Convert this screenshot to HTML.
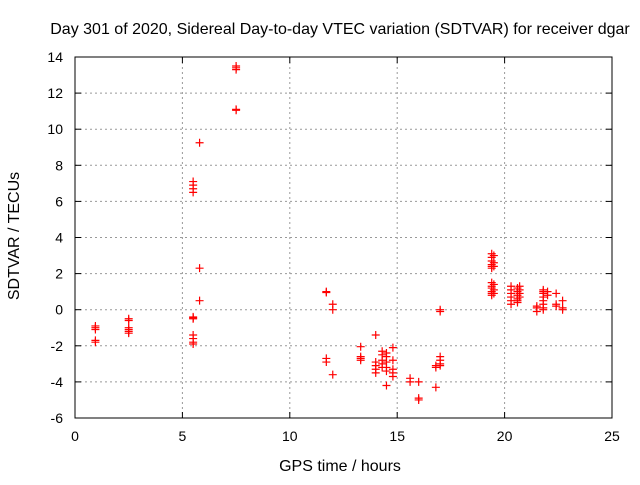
<!DOCTYPE html>
<html><head><meta charset="utf-8"><style>
body{margin:0;background:#fff;}
svg text{font-family:"Liberation Sans",sans-serif;font-size:14px;fill:#000;}
svg text.big{font-size:16px;}
</style></head><body>
<svg id="chart" width="640" height="480" xmlns="http://www.w3.org/2000/svg">
<rect width="640" height="480" fill="#fff"/>
<g id="grid"></g>
<g id="marks"></g>
<rect x="75" y="57" width="537" height="361" fill="none" stroke="#000" stroke-width="1"/>
<g id="ticks"></g>
<text class="big" x="340" y="34" text-anchor="middle">Day 301 of 2020, Sidereal Day-to-day VTEC variation (SDTVAR) for receiver dgar</text>
<text class="big" x="340" y="471" text-anchor="middle">GPS time / hours</text>
<text class="big" x="19" y="236" text-anchor="middle" transform="rotate(-90 19 236)">SDTVAR / TECUs</text>
</svg>
<script>
const xTicks=[0,5,10,15,20,25];
const yTicks=[-6,-4,-2,0,2,4,6,8,10,12,14];
const hours=[0.95,0.95,0.95,0.95,0.95,2.5,2.5,2.5,2.5,2.5,2.5,
5.5,5.5,5.5,5.5,5.5,5.5,5.5,5.5,5.5,5.5,5.5,5.8,5.8,5.8,7.5,7.5,7.5,7.5,7.5,
11.7,11.7,11.7,11.7,12.0,12.0,12.0,13.3,13.3,13.3,13.3,14.0,14.0,14.0,14.0,14.0,
14.3,14.3,14.3,14.3,14.3,14.5,14.5,14.5,14.5,14.5,14.5,14.8,14.8,14.8,14.8,14.8,
15.6,15.6,16.0,16.0,16.0,16.8,16.8,16.8,17.0,17.0,17.0,17.0,17.0,17.0,
19.4,19.4,19.4,19.4,19.4,19.4,19.4,19.4,19.4,19.4,19.4,19.4,19.5,19.5,19.5,19.5,19.5,19.5,
20.3,20.3,20.3,20.3,20.3,20.3,20.6,20.6,20.6,20.6,20.6,20.6,20.7,20.7,20.7,20.7,
21.5,21.5,21.5,21.8,21.8,21.8,21.8,21.8,21.8,21.8,21.8,22.0,22.0,22.4,22.4,22.4,22.7,22.7,22.7];
const values=[-0.9,-1.0,-1.1,-1.7,-1.8,-0.5,-0.6,-1.0,-1.1,-1.2,-1.3,
6.5,6.7,6.9,7.1,-0.4,-0.5,-0.45,-1.4,-1.6,-1.8,-1.9,9.25,2.3,0.5,13.3,13.4,13.5,11.1,11.05,
1.0,0.95,-2.7,-2.9,0.3,0.0,-3.6,-2.05,-2.6,-2.7,-2.8,-1.4,-2.9,-3.1,-3.3,-3.5,
-2.3,-2.5,-2.8,-3.0,-3.2,-2.4,-2.6,-2.9,-3.2,-3.4,-4.2,-2.1,-2.8,-3.3,-3.5,-3.7,
-3.8,-4.0,-4.0,-4.9,-5.0,-4.3,-3.1,-3.2,0.0,-0.1,-2.6,-2.8,-3.0,-3.1,
3.1,2.9,2.7,2.5,2.4,2.3,1.5,1.3,1.2,1.0,0.9,0.8,3.0,2.6,2.4,1.4,1.1,0.9,
1.3,1.1,0.9,0.7,0.5,0.3,1.2,1.0,0.8,0.6,0.5,0.4,1.3,1.1,0.9,0.7,
0.1,-0.1,0.2,1.1,1.0,0.9,0.7,0.5,0.3,0.1,0.0,1.0,0.8,0.9,0.3,0.2,0.5,0.1,0.0];
const NS="http://www.w3.org/2000/svg";
const X0=75,X1=612,Y0=418,Y1=57;
function xs(v){return X0+(v-0)/(25-0)*(X1-X0);}
function ys(v){return Y0-(v+6)/(14+6)*(Y0-Y1);}
const grid=document.getElementById('grid'),ticks=document.getElementById('ticks'),marks=document.getElementById('marks');
function mk(t,a,p){const e=document.createElementNS(NS,t);for(const k in a)e.setAttribute(k,a[k]);p.appendChild(e);return e;}
xTicks.forEach(v=>{const x=xs(v);
if(v>0&&v<25){const g=mk('line',{x1:x,x2:x,y1:Y1,y2:Y0,stroke:'#999','stroke-dasharray':'2,3'},grid);

}
mk('line',{x1:x,x2:x,y1:Y0,y2:Y0-6,stroke:'#000'},ticks);mk('line',{x1:x,x2:x,y1:Y1,y2:Y1+6,stroke:'#000'},ticks);
const t=mk('text',{x:x,y:Y0+23,'text-anchor':'middle'},ticks);t.textContent=v;

});
yTicks.forEach(v=>{const y=ys(v);
if(v>-6&&v<14){const g=mk('line',{x1:X0,x2:X1,y1:y,y2:y,stroke:'#999','stroke-dasharray':'2,3'},grid);

}
mk('line',{x1:X0,x2:X0+6,y1:y,y2:y,stroke:'#000'},ticks);mk('line',{x1:X1,x2:X1-6,y1:y,y2:y,stroke:'#000'},ticks);
const t=mk('text',{x:X0-12,y:y+5,'text-anchor':'end'},ticks);t.textContent=v;

});
hours.forEach((h,i)=>{const x=xs(h),y=ys(values[i]);
const p=mk('path',{d:`M${x-4},${y}H${x+4}M${x},${y-4}V${y+4}`,stroke:'#f00','stroke-width':1.2,fill:'none'},marks);

});
</script>
</body></html>
